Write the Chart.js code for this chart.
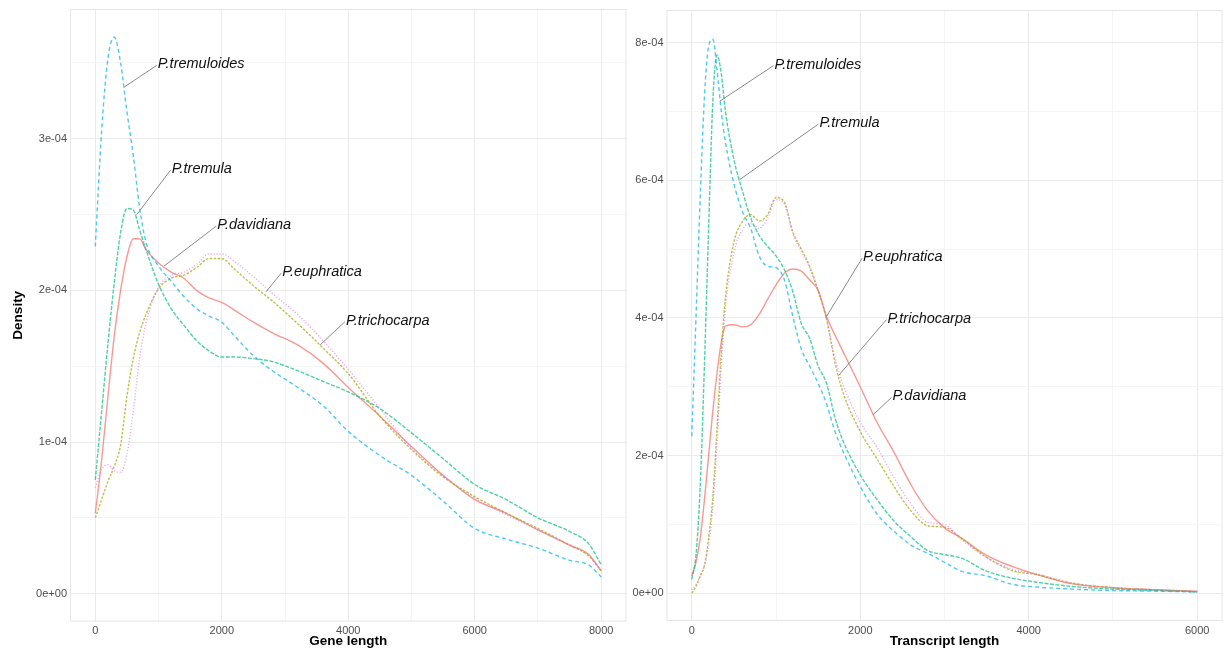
<!DOCTYPE html>
<html>
<head>
<meta charset="utf-8">
<script src="https://cdn.jsdelivr.net/npm/chart.js@4.4.0/dist/chart.umd.min.js"></script>
<style>
  html, body { margin: 0; padding: 0; background: #fff; }
  #wrap { position: relative; width: 1227px; height: 650px; }
  canvas { position: absolute; top: 0; }
</style>
</head>
<body>
<div id="wrap">
  <canvas id="gene" width="632" height="650" style="left:0px"></canvas>
  <canvas id="transcript" width="595" height="650" style="left:632px"></canvas>
</div>
<script>
// densities are in units of 1e-04
const species = ['P.davidiana', 'P.euphratica', 'P.tremula', 'P.tremuloides', 'P.trichocarpa'];

const geneLength = [0, 100, 200, 300, 400, 500, 600, 700, 800, 1000, 1200, 1400, 1600, 1800, 2000, 2200, 2500, 2800, 3200, 3600, 4000, 4500, 5000, 5500, 6000, 6500, 7000, 7500, 7800, 8000];
const geneDavidiana   = [0.53, 0.88, 1.30, 1.70, 2.00, 2.22, 2.34, 2.34, 2.27, 2.18, 2.12, 2.08, 2.00, 1.95, 1.92, 1.87, 1.79, 1.72, 1.64, 1.52, 1.36, 1.17, 0.97, 0.78, 0.62, 0.53, 0.42, 0.32, 0.26, 0.15];
const geneEuphratica  = [0.50, 0.62, 0.74, 0.84, 0.98, 1.30, 1.55, 1.72, 1.84, 2.01, 2.08, 2.10, 2.15, 2.21, 2.21, 2.14, 2.03, 1.93, 1.78, 1.62, 1.45, 1.17, 0.95, 0.77, 0.64, 0.53, 0.43, 0.32, 0.25, 0.15];
const geneTremula     = [0.75, 1.20, 1.65, 2.05, 2.38, 2.54, 2.53, 2.40, 2.27, 2.04, 1.88, 1.77, 1.67, 1.60, 1.56, 1.56, 1.55, 1.53, 1.47, 1.40, 1.33, 1.22, 1.06, 0.89, 0.72, 0.62, 0.50, 0.41, 0.33, 0.19];
const geneTremuloides = [2.29, 3.05, 3.53, 3.67, 3.50, 3.18, 2.89, 2.55, 2.32, 2.16, 2.06, 1.96, 1.88, 1.83, 1.79, 1.70, 1.57, 1.47, 1.36, 1.24, 1.07, 0.91, 0.78, 0.61, 0.43, 0.36, 0.30, 0.22, 0.19, 0.11];
const geneTrichocarpa = [0.70, 0.82, 0.85, 0.81, 0.80, 0.92, 1.20, 1.55, 1.78, 2.02, 2.10, 2.12, 2.17, 2.24, 2.24, 2.19, 2.09, 1.98, 1.84, 1.67, 1.48, 1.22, 0.96, 0.78, 0.63, 0.52, 0.42, 0.32, 0.25, 0.15];

const transcriptLength = [0, 50, 100, 150, 200, 250, 300, 350, 400, 500, 600, 700, 800, 900, 1000, 1100, 1200, 1300, 1400, 1500, 1600, 1700, 1800, 2000, 2200, 2400, 2600, 2800, 3000, 3200, 3500, 3800, 4100, 4500, 5000, 5500, 6000];
const trDavidiana   = [0.25, 0.45, 0.80, 1.35, 2.00, 2.65, 3.20, 3.65, 3.88, 3.90, 3.87, 3.90, 4.05, 4.27, 4.48, 4.65, 4.71, 4.68, 4.55, 4.40, 4.02, 3.75, 3.50, 3.00, 2.48, 2.05, 1.58, 1.20, 0.95, 0.80, 0.55, 0.39, 0.27, 0.14, 0.08, 0.05, 0.03];
const trEuphratica  = [0.00, 0.10, 0.25, 0.40, 0.80, 1.40, 2.40, 3.50, 4.30, 5.10, 5.40, 5.50, 5.41, 5.50, 5.75, 5.68, 5.25, 5.00, 4.75, 4.40, 3.98, 3.35, 2.90, 2.35, 1.95, 1.55, 1.20, 0.98, 0.96, 0.80, 0.52, 0.33, 0.27, 0.15, 0.08, 0.05, 0.02];
const trTremula     = [0.20, 0.55, 1.55, 3.30, 5.30, 7.15, 7.82, 7.55, 7.00, 6.30, 5.85, 5.45, 5.20, 5.04, 4.90, 4.70, 4.38, 3.92, 3.70, 3.30, 3.05, 2.55, 2.20, 1.72, 1.36, 1.05, 0.82, 0.62, 0.56, 0.51, 0.32, 0.22, 0.16, 0.10, 0.06, 0.04, 0.02];
const trTremuloides = [2.28, 4.00, 5.75, 7.20, 7.95, 8.05, 7.60, 7.00, 6.55, 5.95, 5.55, 5.30, 4.90, 4.75, 4.73, 4.55, 4.02, 3.55, 3.30, 3.05, 2.75, 2.35, 2.05, 1.55, 1.15, 0.90, 0.70, 0.58, 0.45, 0.32, 0.25, 0.13, 0.09, 0.06, 0.04, 0.03, 0.02];
const trTrichocarpa = [0.05, 0.12, 0.25, 0.40, 0.70, 1.25, 2.20, 3.30, 4.15, 4.95, 5.28, 5.38, 5.30, 5.45, 5.72, 5.65, 5.22, 4.97, 4.72, 4.38, 3.98, 3.42, 3.02, 2.48, 2.12, 1.68, 1.30, 1.03, 1.00, 0.78, 0.52, 0.35, 0.28, 0.15, 0.08, 0.05, 0.02];

const geneXTicks = [0, 2000, 4000, 6000, 8000];
const geneYTicks = [0, 1, 2, 3];
const geneYLabels = ['0e+00', '1e-04', '2e-04', '3e-04'];
const trXTicks = [0, 2000, 4000, 6000];
const trYTicks = [0, 2, 4, 6, 8];
const trYLabels = ['0e+00', '2e-04', '4e-04', '6e-04', '8e-04'];

// label text + where the leader line touches the curve (data units)
const geneNotes = [
  {text: 'P.tremuloides', tx: 988,  ty: 3.49, px: 457,  py: 3.34},
  {text: 'P.tremula',     tx: 1208, ty: 2.80, px: 657,  py: 2.50},
  {text: 'P.davidiana',   tx: 1928, ty: 2.43, px: 1087, py: 2.16},
  {text: 'P.euphratica',  tx: 2956, ty: 2.12, px: 2700, py: 1.99},
  {text: 'P.trichocarpa', tx: 3964, ty: 1.80, px: 3555, py: 1.64},
];
const trNotes = [
  {text: 'P.tremuloides', tx: 982,  ty: 7.68, px: 334,  py: 7.15},
  {text: 'P.tremula',     tx: 1515, ty: 6.83, px: 570,  py: 6.01},
  {text: 'P.euphratica',  tx: 2033, ty: 4.88, px: 1589, py: 4.00},
  {text: 'P.trichocarpa', tx: 2323, ty: 3.99, px: 1741, py: 3.16},
  {text: 'P.davidiana',   tx: 2383, ty: 2.86, px: 2151, py: 2.59},
];

const colors = ['rgba(248,118,109,0.75)', 'rgba(163,165,0,0.7)', 'rgba(0,191,125,0.7)', 'rgba(0,176,246,0.7)', 'rgba(231,107,243,0.7)'];
const dashes = [[], [2.5, 1.5], [4, 1.5], [4, 3], [1, 2]];
const FONT = '"Liberation Sans", Arial, Helvetica, sans-serif';

const frame = {
  id: 'frame',
  beforeDatasetsDraw(chart) {
    const a = chart.chartArea, ctx = chart.ctx;
    ctx.save();
    ctx.strokeStyle = '#E6E6E6';
    ctx.lineWidth = 1;
    ctx.strokeRect(a.left + 0.5, a.top + 0.5, a.right - a.left - 1, a.bottom - a.top - 1);
    ctx.restore();
  }
};

const notes = {
  id: 'notes',
  afterDatasetsDraw(chart, args, opts) {
    const ctx = chart.ctx, x = chart.scales.x, y = chart.scales.y;
    ctx.save();
    ctx.font = 'italic 14.5px ' + FONT;
    ctx.textBaseline = 'middle';
    ctx.fillStyle = '#111';
    ctx.strokeStyle = '#8a8a8a';
    ctx.lineWidth = 1;
    opts.items.forEach(n => {
      const tx = x.getPixelForValue(n.tx), ty = y.getPixelForValue(n.ty);
      ctx.beginPath();
      ctx.moveTo(x.getPixelForValue(n.px), y.getPixelForValue(n.py));
      ctx.lineTo(tx - 1, ty + 1);
      ctx.stroke();
      ctx.fillText(n.text, tx, ty);
    });
    ctx.restore();
  }
};

// major ticks plus the midpoints between them (ggplot minor grid)
const withMinor = (major, max) => {
  const out = [];
  const step = major[1] - major[0];
  major.forEach(v => { out.push(v); if (v + step / 2 <= max) out.push(v + step / 2); });
  return out;
};

function drawPanel(id, xs, series, opt) {
  const datasets = series.map((s, i) => ({
    label: species[i],
    data: xs.map((x, j) => ({x: x, y: s[j]})),
    borderColor: colors[i],
    borderDash: dashes[i],
    borderWidth: 1.4,
    pointRadius: 0,
    fill: false,
    cubicInterpolationMode: 'monotone',
    order: series.length - i,
  }));

  return new Chart(document.getElementById(id), {
    type: 'line',
    data: {datasets},
    plugins: [frame, notes],
    options: {
      responsive: false,
      animation: false,
      layout: {padding: opt.padding},
      plugins: {
        legend: {display: false},
        tooltip: {enabled: false},
        notes: {items: opt.notes},
      },
      scales: {
        x: {
          type: 'linear',
          min: opt.xMin, max: opt.xMax,
          border: {display: false},
          grid: {color: ctx => (opt.xTicks.includes(ctx.tick.value) ? '#EBEBEB' : '#F5F5F5'), drawTicks: false, lineWidth: 1},
          afterBuildTicks: s => { s.ticks = withMinor(opt.xTicks, opt.xMax).map(v => ({value: v})); },
          ticks: {
            autoSkip: false, maxRotation: 0, padding: 3,
            color: '#4D4D4D', font: {family: FONT, size: 11},
            callback: v => (opt.xTicks.includes(v) ? String(v) : ''),
          },
          title: {display: true, text: opt.xTitle, color: '#000', font: {family: FONT, size: 13.5, weight: 'bold'}, padding: {top: 0, bottom: 1}},
          afterFit: s => { s.height = opt.xHeight; s.paddingLeft = 0; s.paddingRight = 0; },
        },
        y: {
          type: 'linear',
          min: opt.yMin, max: opt.yMax,
          border: {display: false},
          grid: {color: ctx => (opt.yTicks.includes(ctx.tick.value) ? '#EBEBEB' : '#F5F5F5'), drawTicks: false, lineWidth: 1},
          afterBuildTicks: s => { s.ticks = withMinor(opt.yTicks, opt.yMax).map(v => ({value: v})); },
          ticks: {
            autoSkip: false, padding: 3,
            color: '#4D4D4D', font: {family: FONT, size: 11},
            callback: v => { const k = opt.yTicks.indexOf(v); return k >= 0 ? opt.yLabels[k] : ''; },
          },
          title: {display: !!opt.yTitle, text: opt.yTitle || '', color: '#000', font: {family: FONT, size: 13.5, weight: 'bold'}, padding: {top: 10, bottom: 0}},
          afterFit: s => { s.width = opt.yWidth; s.paddingTop = 0; s.paddingBottom = 0; },
        },
      },
    },
  });
}

drawPanel('gene', geneLength,
  [geneDavidiana, geneEuphratica, geneTremula, geneTremuloides, geneTrichocarpa], {
    xMin: -400, xMax: 8400, yMin: -0.1835, yMax: 3.855,
    xTicks: geneXTicks, yTicks: geneYTicks, yLabels: geneYLabels,
    xTitle: 'Gene length', yTitle: 'Density',
    xHeight: 28.5, yWidth: 70,
    padding: {top: 9, right: 5.5, bottom: 0, left: 0},
    notes: geneNotes,
  });

drawPanel('transcript', transcriptLength,
  [trDavidiana, trEuphratica, trTremula, trTremuloides, trTrichocarpa], {
    xMin: -300, xMax: 6300, yMin: -0.4035, yMax: 8.4735,
    xTicks: trXTicks, yTicks: trYTicks, yLabels: trYLabels,
    xTitle: 'Transcript length', yTitle: null,
    xHeight: 29, yWidth: 34.5,
    padding: {top: 10, right: 4.5, bottom: 0, left: 0},
    notes: trNotes,
  });
</script>
</body>
</html>
